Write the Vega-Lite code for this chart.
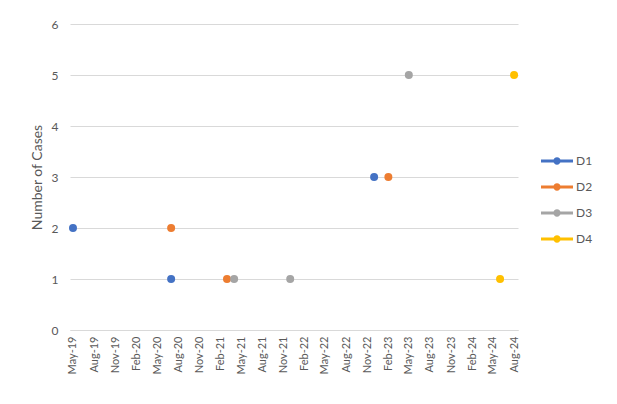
{
  "$schema": "https://vega.github.io/schema/vega-lite/v6.json",
  "width": 448,
  "height": 306,
  "autosize": {"type": "none"},
  "padding": {"left": 70, "top": 24, "right": 99, "bottom": 74},
  "background": "white",
  "config": {
    "view": {"stroke": null},
    "font": "Lato",
    "axis": {"labelColor": "#595959", "titleColor": "#595959", "labelFont": "Lato", "titleFont": "Lato"}
  },
  "data": {
    "values": [
      {"date": "2019-05-01T00:00:00", "cases": 2, "series": "D1"},
      {"date": "2020-07-01T00:00:00", "cases": 1, "series": "D1"},
      {"date": "2022-12-01T00:00:00", "cases": 3, "series": "D1"},
      {"date": "2020-07-01T00:00:00", "cases": 2, "series": "D2"},
      {"date": "2021-03-01T00:00:00", "cases": 1, "series": "D2"},
      {"date": "2023-02-01T00:00:00", "cases": 3, "series": "D2"},
      {"date": "2021-04-01T00:00:00", "cases": 1, "series": "D3"},
      {"date": "2021-12-01T00:00:00", "cases": 1, "series": "D3"},
      {"date": "2023-05-01T00:00:00", "cases": 5, "series": "D3"},
      {"date": "2024-06-01T00:00:00", "cases": 1, "series": "D4"},
      {"date": "2024-08-01T00:00:00", "cases": 5, "series": "D4"}
    ]
  },
  "mark": {"type": "point", "filled": true, "opacity": 1, "size": 64},
  "encoding": {
    "x": {
      "field": "date",
      "type": "temporal",
      "scale": {"domain": [{"year": 2019, "month": 4, "date": 18}, {"year": 2024, "month": 8, "date": 18}]},
      "axis": {
        "title": null,
        "format": "%b-%y",
        "labelAngle": -90,
        "labelFontSize": 11,
        "labelPadding": 6,
        "ticks": false,
        "grid": false,
        "domainColor": "#d9d9d9",
        "labelOverlap": false,
        "labelFlush": false,
        "values": [
          {"year": 2019, "month": 5, "date": 1}, {"year": 2019, "month": 8, "date": 1}, {"year": 2019, "month": 11, "date": 1},
          {"year": 2020, "month": 2, "date": 1}, {"year": 2020, "month": 5, "date": 1}, {"year": 2020, "month": 8, "date": 1}, {"year": 2020, "month": 11, "date": 1},
          {"year": 2021, "month": 2, "date": 1}, {"year": 2021, "month": 5, "date": 1}, {"year": 2021, "month": 8, "date": 1}, {"year": 2021, "month": 11, "date": 1},
          {"year": 2022, "month": 2, "date": 1}, {"year": 2022, "month": 5, "date": 1}, {"year": 2022, "month": 8, "date": 1}, {"year": 2022, "month": 11, "date": 1},
          {"year": 2023, "month": 2, "date": 1}, {"year": 2023, "month": 5, "date": 1}, {"year": 2023, "month": 8, "date": 1}, {"year": 2023, "month": 11, "date": 1},
          {"year": 2024, "month": 2, "date": 1}, {"year": 2024, "month": 5, "date": 1}, {"year": 2024, "month": 8, "date": 1}
        ]
      }
    },
    "y": {
      "field": "cases",
      "type": "quantitative",
      "scale": {"domain": [0, 6], "nice": false},
      "axis": {
        "title": "Number of Cases",
        "titleFontSize": 14,
        "titleFontWeight": "normal",
        "titlePadding": 7,
        "labelFontSize": 12,
        "labelPadding": 12,
        "values": [0, 1, 2, 3, 4, 5, 6],
        "domain": false,
        "ticks": false,
        "gridColor": "#d9d9d9"
      }
    },
    "color": {
      "field": "series",
      "type": "nominal",
      "scale": {"domain": ["D1", "D2", "D3", "D4"], "range": ["#4472C4", "#ED7D31", "#A5A5A5", "#FFC000"]},
      "legend": {
        "title": null,
        "orient": "none",
        "legendX": 471,
        "legendY": 121,
        "symbolType": "M-1,-0.1H-0.2V0.1H-1Z M0.2,-0.1H1V0.1H0.2Z M-0.23,0A0.23,0.23 0 1,1 0.23,0A0.23,0.23 0 1,1 -0.23,0Z",
        "symbolSize": 1024,
        "symbolStrokeWidth": 0,
        "symbolOpacity": 1,
        "labelFontSize": 12,
        "labelColor": "#595959",
        "labelOffset": 3,
        "rowPadding": 4
      }
    }
  }
}
